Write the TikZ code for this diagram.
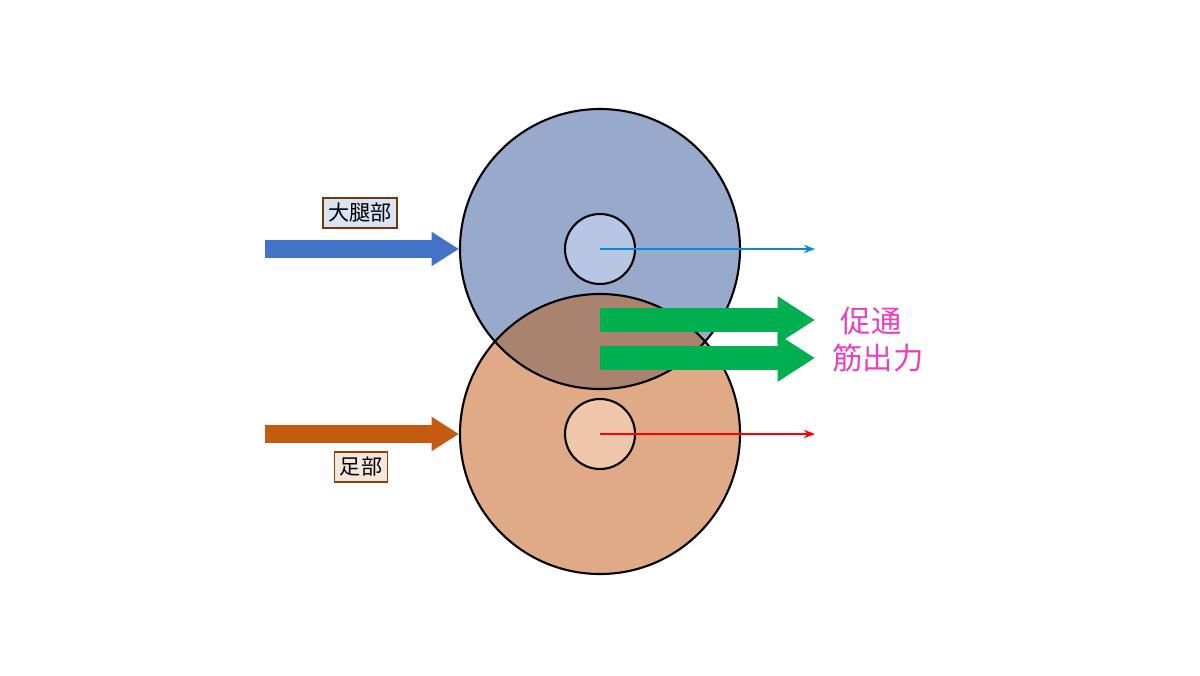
\documentclass[tikz,border=0pt]{standalone}
\usepackage{fontspec}
\newfontfamily\jp{Noto Sans CJK JP}
\usetikzlibrary{arrows.meta}
\definecolor{thighfill}{HTML}{97AACB}
\definecolor{footfill}{HTML}{E0AA86}
\definecolor{mixfill}{HTML}{A9836F}
\definecolor{thighcore}{HTML}{B6C6E3}
\definecolor{footcore}{HTML}{F0C6AB}
\definecolor{thigharrow}{HTML}{4472C4}
\definecolor{footarrow}{HTML}{C55A11}
\definecolor{boostgreen}{HTML}{00B050}
\definecolor{labelpink}{HTML}{E83FC4}
\tikzset{
  label box/.style={draw,line width=0.8pt,inner sep=3pt,font=\jp\large},
  big arrow/.style={line width=10pt,-{Triangle[length=0.55cm,width=0.65cm]}},
  green arrow/.style={boostgreen,line width=14pt,-{Triangle[length=0.75cm,width=0.9cm]}},
  thin arrow/.style={line width=1.2pt,-{Stealth[length=0.22cm]}}
}
\begin{document}
\begin{tikzpicture}
\useasboundingbox (0,0) rectangle (24,13.5);
\coordinate (thigh) at (12,8.52);
\coordinate (foot) at (12,4.82);
% discs
\fill[footfill] (foot) circle (2.8);
\fill[thighfill] (thigh) circle (2.8);
\begin{scope}
  \clip (thigh) circle (2.8);
  \fill[mixfill] (foot) circle (2.8);
\end{scope}
\draw[line width=1.2pt] (thigh) circle (2.8);
\draw[line width=1.2pt] (foot) circle (2.8);
\filldraw[fill=thighcore,line width=1.2pt] (thigh) circle (0.7);
\filldraw[fill=footcore,line width=1.2pt] (foot) circle (0.7);
% inputs
\coordinate (thighin) at (5.3,8.52);
\coordinate (thighedge) at (9.18,8.52);
\coordinate (footin) at (5.3,4.82);
\coordinate (footedge) at (9.18,4.82);
\draw[big arrow,thigharrow] (thighin) -- (thighedge);
\draw[big arrow,footarrow] (footin) -- (footedge);
\node[label box,draw=footarrow!60!black,fill=thigharrow!20] (thighlabel) at (7.2,9.24) {大腿部};
\node[label box,draw=footarrow!70!black,fill=footarrow!15] (footlabel) at (7.22,4.16) {足部};
% outputs
\coordinate (thighout) at (16.3,8.52);
\coordinate (footout) at (16.3,4.82);
\draw[thin arrow,cyan!70!blue] (thigh) -- (thighout);
\draw[thin arrow,red] (foot) -- (footout);
\coordinate (g1a) at (12,7.1);
\coordinate (g1b) at (16.3,7.1);
\coordinate (g2a) at (12,6.34);
\coordinate (g2b) at (16.3,6.34);
\draw[green arrow] (g1a) -- (g1b);
\draw[green arrow] (g2a) -- (g2b);
\node[labelpink,font=\jp\LARGE] (boost) at (17.42,7.08) {促通};
\node[labelpink,font=\jp\LARGE] (force) at (17.56,6.34) {筋出力};
\end{tikzpicture}
\end{document}
